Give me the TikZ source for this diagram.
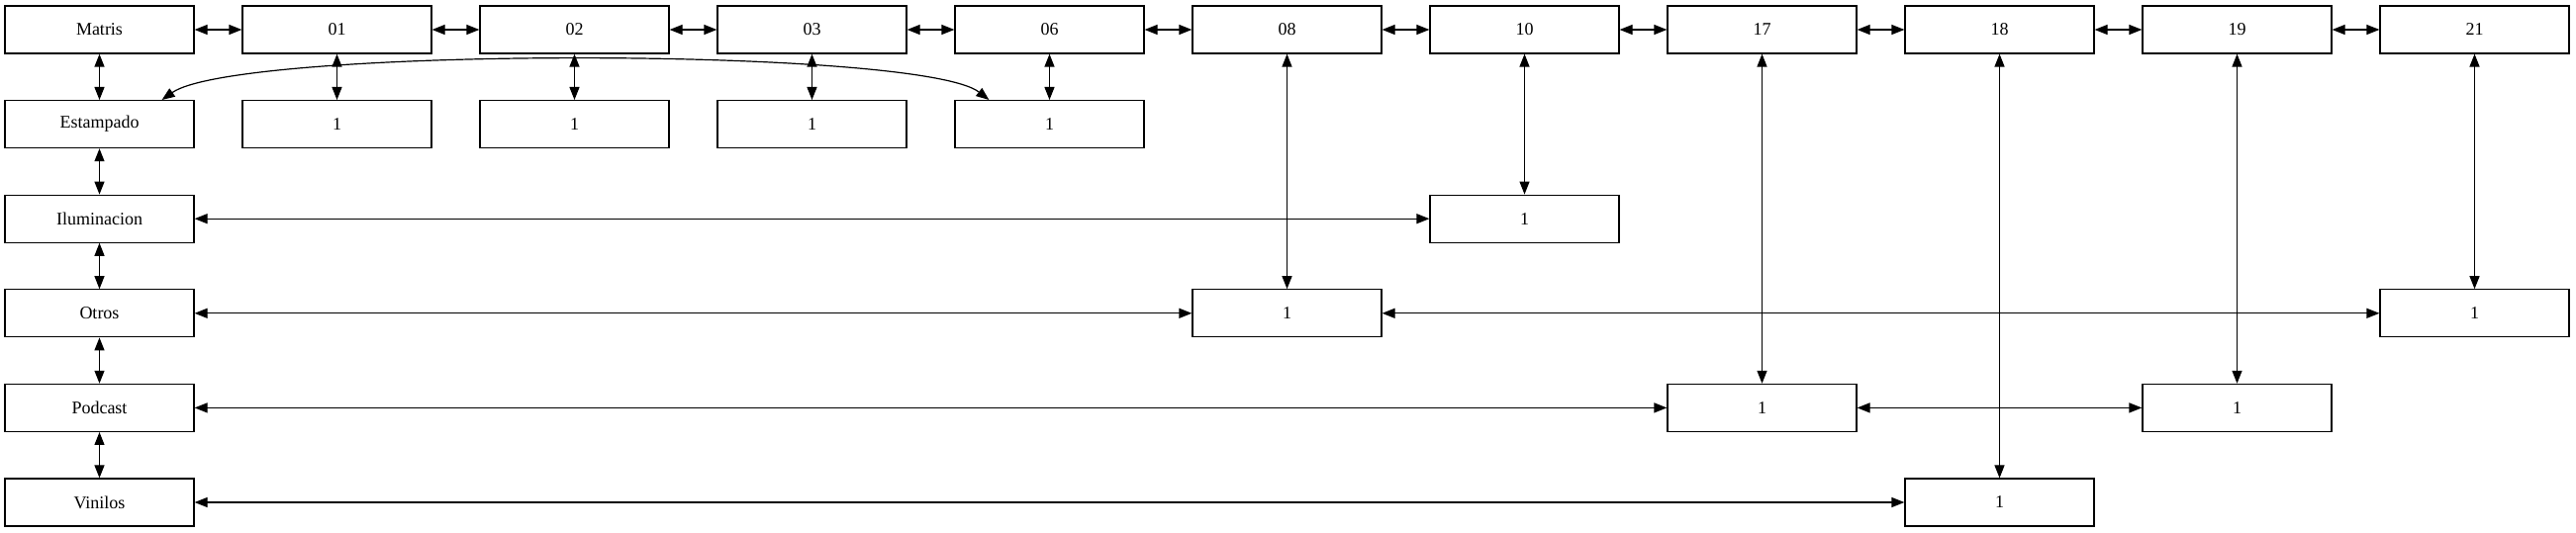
\documentclass[tikz,border=0pt]{standalone}
\usepackage{fontspec}
\setmainfont{Liberation Serif}
\usetikzlibrary{arrows.meta}
\begin{document}
\begin{tikzpicture}[x=0.5pt,y=-0.5pt,
	>={Triangle[length=6.5pt,width=5pt]},
	caja/.style={draw,line width=0.6pt,minimum width=95.5pt,minimum height=24pt,inner sep=0pt,font=\fontsize{9}{11}\selectfont},
	enlace/.style={<->,line width=0.6pt}]

	\useasboundingbox (0,0) rectangle (2603,539);

	% fila de arriba
	\node[caja] (matris) at (100.5,30) {Matris};
	\foreach \n/\i in {01/1,02/2,03/3,06/4,08/5,10/6,17/7,18/8,19/9,21/10}
		\node[caja] (c\n) at (100.5+240*\i,30) {\n};

	% columna de la izquierda
	\node[caja] (estampado) at (100.5,125.6) {Estampado};
	\node[caja] (iluminacion) at (100.5,221.2) {Iluminacion};
	\node[caja] (otros) at (100.5,316.8) {Otros};
	\node[caja] (podcast) at (100.5,412.4) {Podcast};
	\node[caja] (vinilos) at (100.5,508) {Vinilos};

	% cajas con 1
	\node[caja] (e01) at (340.5,125.6) {1};
	\node[caja] (e02) at (580.5,125.6) {1};
	\node[caja] (e03) at (820.5,125.6) {1};
	\node[caja] (e06) at (1060.5,125.6) {1};
	\node[caja] (i10) at (1540.5,221.2) {1};
	\node[caja] (o08) at (1300.5,316.8) {1};
	\node[caja] (o21) at (2500.5,316.8) {1};
	\node[caja] (p17) at (1780.5,412.4) {1};
	\node[caja] (p19) at (2260.5,412.4) {1};
	\node[caja] (v18) at (2020.5,508) {1};

	\draw[enlace] (matris) -- (c01);
	\foreach \a/\b in {01/02,02/03,03/06,06/08,08/10,10/17,17/18,18/19,19/21}
		\draw[enlace] (c\a) -- (c\b);

	\draw[enlace] (matris) -- (estampado);
	\draw[enlace] (estampado) -- (iluminacion);
	\draw[enlace] (iluminacion) -- (otros);
	\draw[enlace] (otros) -- (podcast);
	\draw[enlace] (podcast) -- (vinilos);

	\foreach \n in {01,02,03,06}
		\draw[enlace] (c\n) -- (e\n);
	\draw[enlace] ([xshift=-16.5pt]estampado.north east) .. controls (240,47) and (930,47) .. ([xshift=17.5pt]e06.north west);

	\draw[enlace] (c10) -- (i10);
	\draw[enlace] (c08) -- (o08);
	\draw[enlace] (c21) -- (o21);
	\draw[enlace] (c17) -- (p17);
	\draw[enlace] (c19) -- (p19);
	\draw[enlace] (c18) -- (v18);

	\draw[enlace] (iluminacion) -- (i10);
	\draw[enlace] (otros) -- (o08);
	\draw[enlace] (o08) -- (o21);
	\draw[enlace] (podcast) -- (p17);
	\draw[enlace] (p17) -- (p19);
	\draw[enlace] (vinilos) -- (v18);

\end{tikzpicture}
\end{document}
